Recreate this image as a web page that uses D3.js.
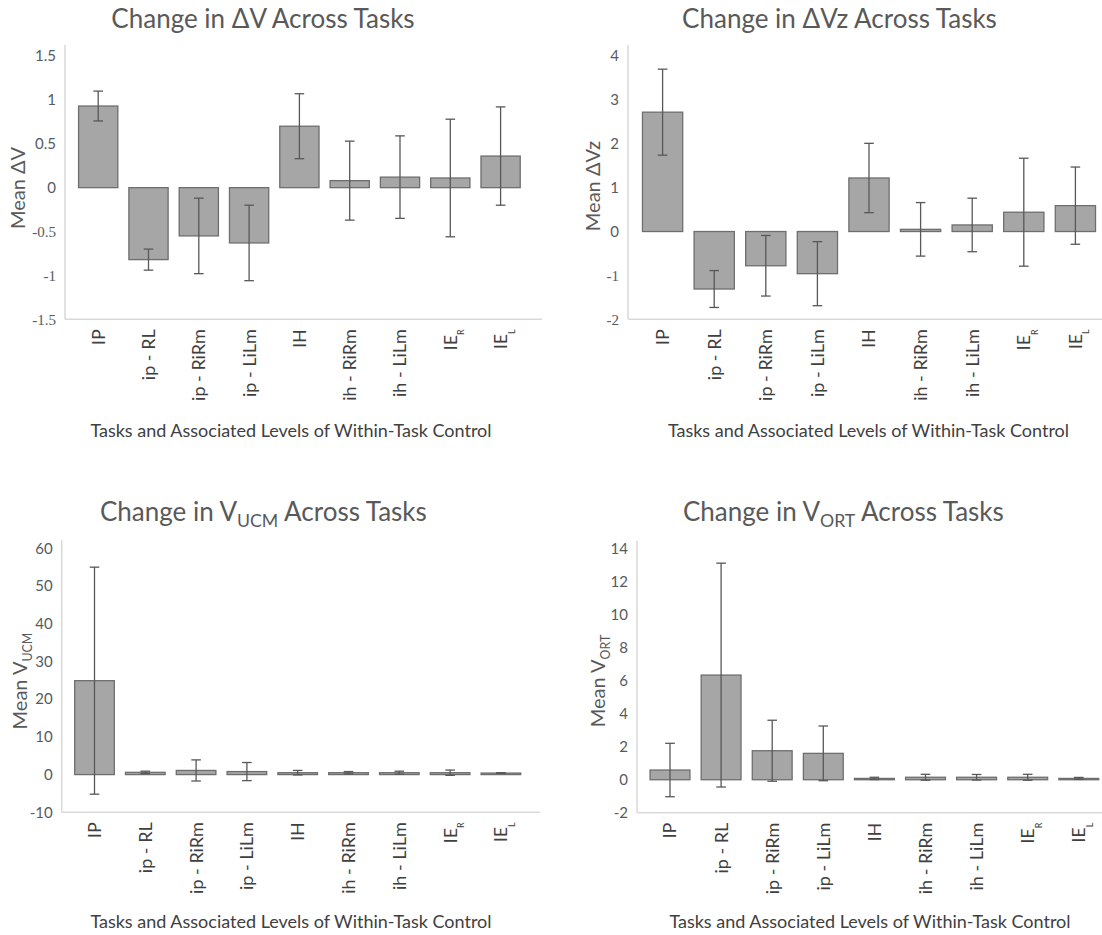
<!DOCTYPE html>
<html>
<head>
<meta charset="utf-8">
<script src="https://cdn.jsdelivr.net/npm/d3@7"></script>
<style>
  body { margin: 0; background: #fff; }
  svg { display: block; }
</style>
</head>
<body>
<svg id="chart" width="1102" height="935"></svg>
<script>
// Task / control-level categories ("_{x}" marks a subscript)
const categories = ["IP", "ip - RL", "ip - RiRm", "ip - LiLm", "IH", "ih - RiRm", "ih - LiLm", "IE_{R}", "IE_{L}"];

// Change in ΔV: means and error half-widths
const meanDV = [0.93, -0.82, -0.55, -0.63, 0.70, 0.08, 0.12, 0.11, 0.36];
const errDV  = [0.17, 0.12, 0.43, 0.43, 0.37, 0.45, 0.47, 0.67, 0.56];
const ticksDV = [-1.5, -1, -0.5, 0, 0.5, 1, 1.5];

// Change in ΔVz
const meanDVz = [2.72, -1.31, -0.78, -0.96, 1.22, 0.05, 0.15, 0.44, 0.59];
const errDVz  = [0.98, 0.42, 0.69, 0.73, 0.79, 0.61, 0.61, 1.23, 0.88];
const ticksDVz = [-2, -1, 0, 1, 2, 3, 4];

// Change in V_UCM
const meanUCM = [24.9, 0.6, 1.1, 0.8, 0.5, 0.5, 0.5, 0.5, 0.4];
const errUCM  = [30.1, 0.3, 2.8, 2.4, 0.6, 0.3, 0.4, 0.7, 0.1];
const ticksUCM = [-10, 0, 10, 20, 30, 40, 50, 60];

// Change in V_ORT
const meanORT = [0.59, 6.35, 1.76, 1.60, 0.08, 0.15, 0.15, 0.15, 0.08];
const errORT  = [1.62, 6.79, 1.85, 1.66, 0.07, 0.18, 0.17, 0.18, 0.06];
const ticksORT = [-2, 0, 2, 4, 6, 8, 10, 12, 14];

const xTitleText = "Tasks and Associated Levels of Within-Task Control";

const panels = [
  { title: "Change in ΔV Across Tasks", yTitle: "Mean ΔV", mean: meanDV, err: errDV, ticks: ticksDV,
    serifNeg: true,
    axisX: 65, axisEnd: 542, firstCenter: 98.2, step: 50.3, yTop: 56, yBottom: 319.3, lineTop: 45,
    titleX: 263, titleY: 28, yTitleX: 17.5, yTitleY: 188, xTitleX: 291, xTitleY: 437 },
  { title: "Change in ΔVz Across Tasks", yTitle: "Mean ΔVz", mean: meanDVz, err: errDVz, ticks: ticksDVz,
    serifNeg: true,
    axisX: 628, axisEnd: 1102, firstCenter: 662.6, step: 51.6, yTop: 56, yBottom: 319.3, lineTop: 45,
    titleX: 839.5, titleY: 28, yTitleX: 593, yTitleY: 186, xTitleX: 868.5, xTitleY: 437 },
  { title: "Change in V_{UCM} Across Tasks", yTitle: "Mean V_{UCM}", mean: meanUCM, err: errUCM, ticks: ticksUCM,
    serifNeg: false,
    axisX: 61.7, axisEnd: 540, firstCenter: 94.5, step: 50.8, yTop: 548.3, yBottom: 812.3, lineTop: 540,
    titleX: 263.4, titleY: 521, yTitleX: 20, yTitleY: 681, xTitleX: 291, xTitleY: 928 },
  { title: "Change in V_{ORT} Across Tasks", yTitle: "Mean V_{ORT}", mean: meanORT, err: errORT, ticks: ticksORT,
    serifNeg: false,
    axisX: 637, axisEnd: 1102, firstCenter: 670, step: 51.1, yTop: 549, yBottom: 812.7, lineTop: 540.7,
    titleX: 843.4, titleY: 521, yTitleX: 597.5, yTitleY: 681, xTitleX: 870, xTitleY: 928 }
];

const FONT = "Lato, 'Open Sans', sans-serif";
const svg = d3.select("#chart");

// Write a string into a <text>, turning "_{...}" into subscripts
function richText(sel, str, fontSize, subScale, subShift) {
  const re = /_\{([^}]*)\}/g;
  let last = 0, m, shifted = 0;
  const addPlain = s => {
    const t = sel.append("tspan").text(s);
    if (shifted) { t.attr("dy", -shifted); shifted = 0; }
  };
  while ((m = re.exec(str))) {
    if (m.index > last) addPlain(str.slice(last, m.index));
    const d = fontSize * subShift;
    sel.append("tspan").attr("font-size", fontSize * subScale).attr("dy", d).text(m[1]);
    shifted = d;
    last = re.lastIndex;
  }
  if (last < str.length) addPlain(str.slice(last));
}

function drawPanel(p) {
  const g = svg.append("g");
  const n = categories.length;

  const y = d3.scaleLinear()
    .domain([p.ticks[0], p.ticks[p.ticks.length - 1]])
    .range([p.yBottom, p.yTop]);
  const x = d3.scaleBand()
    .domain(categories)
    .range([p.firstCenter - p.step / 2, p.firstCenter - p.step / 2 + p.step * n])
    .paddingInner(0.22)
    .paddingOuter(0.11);

  // plot frame: value axis on the left, category axis along the bottom
  g.append("line")
    .attr("x1", p.axisX).attr("x2", p.axisX)
    .attr("y1", p.lineTop).attr("y2", p.yBottom)
    .attr("stroke", "#d9d9d9").attr("stroke-width", 1.5);
  g.append("line")
    .attr("x1", p.axisX).attr("x2", p.axisEnd)
    .attr("y1", p.yBottom).attr("y2", p.yBottom)
    .attr("stroke", "#d9d9d9").attr("stroke-width", 1.5);

  // value axis labels
  const ya = g.append("g")
    .attr("transform", `translate(${p.axisX},0)`)
    .call(d3.axisLeft(y).tickValues(p.ticks).tickSize(0).tickPadding(9).tickFormat(d => String(d)));
  ya.select(".domain").remove();
  ya.selectAll("text")
    .attr("fill", "#555a63")
    .style("font-family", d => (p.serifNeg && d < 0) ? "'Liberation Serif', serif" : FONT)
    .style("font-size", "15px");

  // bars
  g.selectAll("rect.bar")
    .data(categories.map((c, i) => ({ c, m: p.mean[i], e: p.err[i] })))
    .join("rect")
    .attr("class", "bar")
    .attr("x", d => x(d.c))
    .attr("width", x.bandwidth())
    .attr("y", d => Math.min(y(d.m), y(0)))
    .attr("height", d => Math.abs(y(d.m) - y(0)))
    .attr("fill", "#a6a6a6")
    .attr("stroke", "#6e6e6e")
    .attr("stroke-width", 1.3);

  // error bars
  const cap = 4.8;
  const eb = g.selectAll("g.err")
    .data(categories.map((c, i) => ({ c, m: p.mean[i], e: p.err[i] })))
    .join("g").attr("class", "err")
    .attr("stroke", "#585858").attr("stroke-width", 1.3);
  eb.append("line")
    .attr("x1", d => x(d.c) + x.bandwidth() / 2).attr("x2", d => x(d.c) + x.bandwidth() / 2)
    .attr("y1", d => y(d.m - d.e)).attr("y2", d => y(d.m + d.e));
  eb.append("line")
    .attr("x1", d => x(d.c) + x.bandwidth() / 2 - cap).attr("x2", d => x(d.c) + x.bandwidth() / 2 + cap)
    .attr("y1", d => y(d.m + d.e)).attr("y2", d => y(d.m + d.e));
  eb.append("line")
    .attr("x1", d => x(d.c) + x.bandwidth() / 2 - cap).attr("x2", d => x(d.c) + x.bandwidth() / 2 + cap)
    .attr("y1", d => y(d.m - d.e)).attr("y2", d => y(d.m - d.e));

  // rotated category labels
  categories.forEach(c => {
    const t = g.append("text")
      .attr("transform", `translate(${x(c) + x.bandwidth() / 2},${p.yBottom + 10}) rotate(-90)`)
      .attr("text-anchor", "end")
      .attr("dy", "0.36em")
      .attr("fill", "#404040")
      .style("font-family", FONT)
      .style("font-size", "18px");
    richText(t, c, 18, 0.5, 0.42);
  });

  // chart title
  const tt = g.append("text")
    .attr("x", p.titleX).attr("y", p.titleY)
    .attr("text-anchor", "middle")
    .attr("fill", "#595959")
    .style("font-family", FONT)
    .style("font-size", "26px");
  richText(tt, p.title, 26, 0.68, 0.24);

  // value axis title
  const yt = g.append("text")
    .attr("transform", `translate(${p.yTitleX},${p.yTitleY}) rotate(-90)`)
    .attr("text-anchor", "middle")
    .attr("dy", "0.36em")
    .attr("fill", "#595959")
    .style("font-family", FONT)
    .style("font-size", "20px");
  richText(yt, p.yTitle, 20, 0.62, 0.25);

  // category axis title
  g.append("text")
    .attr("x", p.xTitleX).attr("y", p.xTitleY)
    .attr("text-anchor", "middle")
    .attr("fill", "#404040")
    .style("font-family", FONT)
    .style("font-size", "18px")
    .text(xTitleText);
}

panels.forEach(drawPanel);
</script>
</body>
</html>
